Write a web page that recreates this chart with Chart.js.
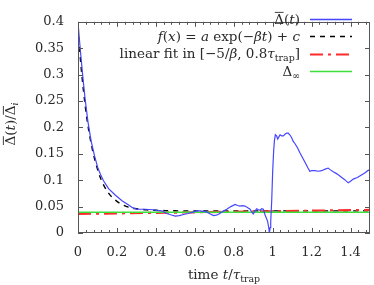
<!DOCTYPE html>
<html>
<head>
<meta charset="utf-8">
<script src="https://cdn.jsdelivr.net/npm/chart.js@4/dist/chart.umd.min.js"></script>
<style>
html,body{margin:0;padding:0;background:#fff;}
#wrap{width:374px;height:285px;}
</style>
</head>
<body>
<div id="wrap"><canvas id="c" width="374" height="285"></canvas></div>
<script>
// ---- data ----
const blueT = [0.002,0.012,0.024,0.037,0.051,0.067,0.085,0.103,0.117,0.131,0.157,0.191,0.226,0.260,0.280,0.302,0.345,0.385,0.405,0.430,0.456,0.480,0.500,0.520,0.542,0.565,0.585,0.610,0.627,0.645,0.660,0.680,0.696,0.710,0.720,0.740,0.764,0.785,0.807,0.820,0.832,0.845,0.858,0.872,0.884,0.892,0.900,0.910,0.918,0.927,0.935,0.944,0.952,0.961,0.968,0.974,0.980,0.983,0.987,0.990,0.995,1.000,1.005,1.009,1.014,1.020,1.026,1.032,1.038,1.046,1.055,1.063,1.072,1.080,1.088,1.097,1.105,1.115,1.128,1.140,1.153,1.166,1.180,1.191,1.200,1.217,1.235,1.251,1.270,1.285,1.295,1.311,1.330,1.345,1.370,1.388,1.400,1.414,1.435,1.456,1.475,1.491,1.500];
const blueV = [0.390,0.346,0.299,0.252,0.211,0.175,0.146,0.122,0.110,0.099,0.084,0.072,0.061,0.053,0.048,0.045,0.045,0.044,0.043,0.042,0.037,0.034,0.032,0.033,0.035,0.037,0.039,0.042,0.042,0.041,0.040,0.036,0.033,0.034,0.035,0.040,0.045,0.050,0.054,0.052,0.051,0.052,0.051,0.048,0.045,0.040,0.036,0.042,0.046,0.044,0.043,0.046,0.045,0.034,0.028,0.022,0.010,0.000,0.010,0.022,0.060,0.116,0.155,0.175,0.186,0.184,0.178,0.182,0.186,0.184,0.184,0.187,0.189,0.189,0.186,0.181,0.174,0.169,0.161,0.152,0.143,0.134,0.124,0.117,0.118,0.118,0.117,0.118,0.121,0.123,0.120,0.116,0.112,0.108,0.101,0.095,0.098,0.102,0.105,0.110,0.114,0.119,0.118];
const fitT = [0,0.01,0.02,0.03,0.04,0.05,0.06,0.07,0.08,0.09,0.10,0.12,0.14,0.16,0.18,0.20,0.225,0.25,0.275,0.30,0.35,0.40,0.50,1.50];
const fitV = [0.390,0.340,0.298,0.263,0.232,0.206,0.184,0.165,0.148,0.134,0.121,0.100,0.085,0.074,0.066,0.060,0.054,0.050,0.047,0.046,0.044,0.043,0.042,0.042];
const linT = [0, 1.5];
const linV = [0.0362, 0.0437];
const infT = [0, 1.5];
const infV = [0.0395, 0.0395];
const xTicks = [0,0.2,0.4,0.6,0.8,1,1.2,1.4];
const yTicks = [0,0.05,0.1,0.15,0.2,0.25,0.3,0.35,0.4];

const FAM = '"DejaVu Serif", serif';
const TXT = '#2a2a2a';
const FS = 13;
const LFS = 13.5;
const BLUE = '#4646ff';

function pts(xs, ys){ return xs.map((x,i)=>({x:x,y:ys[i]})); }

function measure(ctx, parts, size){
  let w = 0;
  for (const p of parts){
    const s = p.sub ? size*0.7 : size;
    p.font = (p.it ? 'italic ' : '') + s + 'px ' + FAM;
    ctx.font = p.font;
    p.w = ctx.measureText(p.t).width;
    w += p.w;
  }
  return w;
}
function drawParts(ctx, parts, x, yMid, size){
  const base = yMid + size*0.36;
  ctx.fillStyle = TXT;
  ctx.textBaseline = 'alphabetic';
  ctx.textAlign = 'left';
  for (const p of parts){
    ctx.font = p.font;
    const by = p.sub ? base + size*0.22 : base;
    ctx.fillText(p.t, x, by);
    if (p.over){
      ctx.save();
      ctx.strokeStyle = TXT; ctx.lineWidth = 0.9;
      ctx.beginPath();
      ctx.moveTo(x+0.5, base - size*0.85);
      ctx.lineTo(x+p.w-0.5, base - size*0.85);
      ctx.stroke();
      ctx.restore();
    }
    x += p.w;
  }
}

const decor = {
  id:'decor',
  afterDraw(chart){
    const ctx = chart.ctx, a = chart.chartArea;
    const xs = chart.scales.x, ys = chart.scales.y;
    ctx.save();
    // frame
    ctx.strokeStyle = '#555';
    ctx.lineWidth = 1;
    ctx.strokeRect(Math.round(a.left)+0.5, Math.round(a.top)+0.5, Math.round(a.right-a.left)-1, Math.round(a.bottom-a.top)-1);
    ctx.beginPath();
    for (let i=0;i<=37;i++){
      const v = i*0.04;
      if (v>1.5001) break;
      const px = Math.round(xs.getPixelForValue(v))+0.5;
      const major = (i%5===0);
      const L = major ? 5 : 3;
      ctx.moveTo(px, a.bottom); ctx.lineTo(px, a.bottom-L);
      ctx.moveTo(px, a.top); ctx.lineTo(px, a.top+L);
    }
    for (const v of yTicks){
      const py = Math.round(ys.getPixelForValue(v))+0.5;
      ctx.moveTo(a.left, py); ctx.lineTo(a.left+5, py);
      ctx.moveTo(a.right, py); ctx.lineTo(a.right-5, py);
    }
    ctx.stroke();

    // legend
    const entries = [
      {parts:[{t:'Δ',over:true},{t:'('},{t:'t',it:true},{t:')'}], color:BLUE, w:1.3, dash:[]},
      {parts:[{t:'f',it:true},{t:'('},{t:'x',it:true},{t:') = '},{t:'a',it:true},{t:' exp(−'},{t:'β',it:true},{t:'t',it:true},{t:') + '},{t:'c',it:true}], color:'#000', w:1.5, dash:[5,5]},
      {parts:[{t:'linear fit in [−5/'},{t:'β',it:true},{t:', 0.8'},{t:'τ',it:true},{t:'trap',sub:true},{t:']'}], color:'#ff2a2a', w:2, dash:[13,5,3,5]},
      {parts:[{t:'Δ'},{t:'∞',sub:true}], color:'#3be03b', w:1.5, dash:[]}
    ];
    const ly = [19, 36, 53.5, 71];
    entries.forEach((e,i)=>{
      const w = measure(ctx, e.parts, LFS);
      drawParts(ctx, e.parts, 300 - w, ly[i], LFS);
      ctx.save();
      ctx.strokeStyle = e.color; ctx.lineWidth = e.w; ctx.setLineDash(e.dash);
      ctx.beginPath(); ctx.moveTo(310, Math.round(ly[i])+0.5); ctx.lineTo(352, Math.round(ly[i])+0.5); ctx.stroke();
      ctx.restore();
    });

    // x title
    const xt = [{t:'time '},{t:'t',it:true},{t:'/'},{t:'τ',it:true},{t:'trap',sub:true}];
    const xw = measure(ctx, xt, LFS);
    drawParts(ctx, xt, (a.left+a.right)/2 - xw/2, 274, LFS);

    // y title (rotated)
    const yt = [{t:'Δ',over:true},{t:'('},{t:'t',it:true},{t:')/'},{t:'Δ',over:true},{t:'i',it:true,sub:true}];
    const yw = measure(ctx, yt, LFS);
    ctx.save();
    ctx.translate(10, 124);
    ctx.rotate(-Math.PI/2);
    drawParts(ctx, yt, -yw/2, 0, LFS);
    ctx.restore();

    ctx.restore();
  }
};

new Chart(document.getElementById('c'), {
  type:'line',
  data:{
    datasets:[
      {label:'Delta(t)', data:pts(blueT,blueV), borderColor:BLUE, borderWidth:1.2, pointRadius:0, tension:0, fill:false, order:1},
      {label:'fit', data:pts(fitT,fitV), borderColor:'#000', borderWidth:1.4, borderDash:[5,5], pointRadius:0, tension:0.35, fill:false, order:4},
      {label:'linear fit', data:pts(linT,linV), borderColor:'#ff2a2a', borderWidth:2.2, borderDash:[13,5,3,5], pointRadius:0, tension:0, fill:false, order:3},
      {label:'Delta_inf', data:pts(infT,infV), borderColor:'#3be03b', borderWidth:1.5, pointRadius:0, tension:0, fill:false, order:2}
    ]
  },
  options:{
    responsive:false,
    animation:false,
    events:[],
    layout:{padding:{top:6,right:4,left:0,bottom:0}},
    plugins:{legend:{display:false}, tooltip:{enabled:false}},
    scales:{
      x:{type:'linear', min:0, max:1.5,
         grid:{display:false, drawTicks:false}, border:{display:false},
         afterFit(s){ s.height = 52; },
         afterBuildTicks(s){ s.ticks = xTicks.map(v=>({value:v})); },
         ticks:{autoSkip:false, maxRotation:0, padding:12, color:TXT, font:{family:FAM, size:FS},
           callback:(v)=>String(Math.round(v*10)/10)}
      },
      y:{type:'linear', min:0, max:0.4,
         grid:{display:false, drawTicks:false}, border:{display:false},
         afterFit(s){ s.width = 78; },
         afterBuildTicks(s){ s.ticks = yTicks.map(v=>({value:v})); },
         ticks:{autoSkip:false, padding:14, color:TXT, font:{family:FAM, size:FS},
           callback:(v)=>String(Math.round(v*100)/100)}
      }
    }
  },
  plugins:[decor]
});
</script>
</body>
</html>
